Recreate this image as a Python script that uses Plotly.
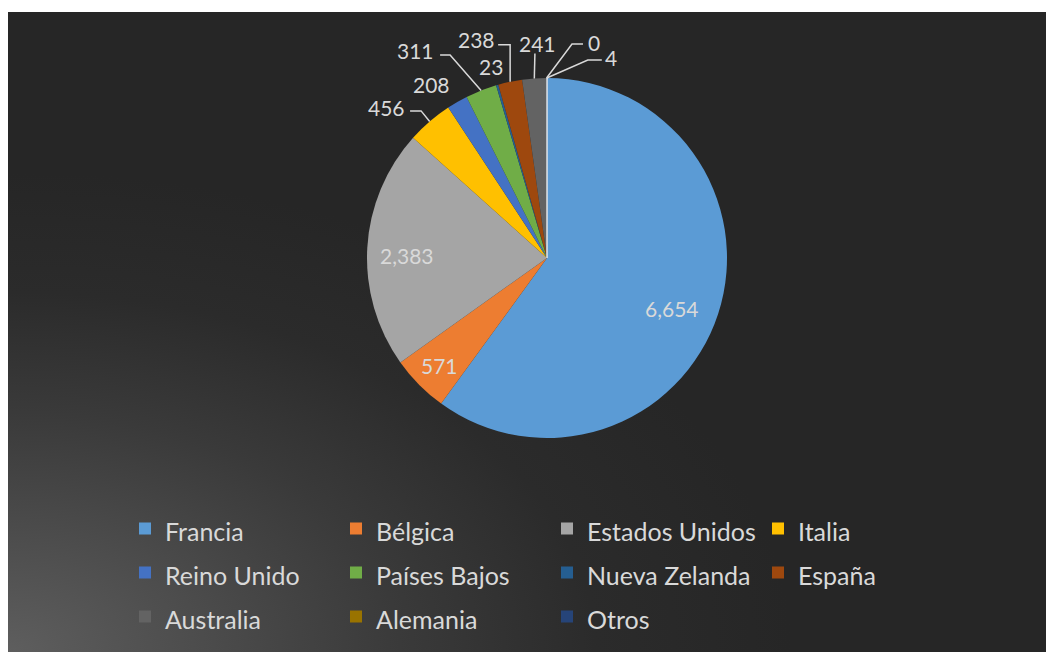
import base64
import math
import plotly.graph_objects as go

categories = ["Francia", "Bélgica", "Estados Unidos", "Italia", "Reino Unido",
              "Países Bajos", "Nueva Zelanda", "España", "Australia", "Alemania", "Otros"]
values = [6654, 571, 2383, 456, 208, 311, 23, 238, 241, 0, 4]

# ---- styling (not data) ----
colors = ["#5B9BD5", "#ED7D31", "#A5A5A5", "#FFC000", "#4472C4", "#70AD47",
          "#255E91", "#9E480E", "#636363", "#997300", "#264478"]
# inside labels: ("in", radius factor, dx, dy)
# outside labels: ("out", text dx, text dy, leader polyline offsets or None)
label_style = [
    ("in", 0.77, -7, 8),
    ("in", 0.84, 0, 1),
    ("in", 0.77, -2, 5),
    ("out", -43.6, -14.1, [(-19.6, -10.6), (-8.6, -10.6)]),
    ("out", -25.3, -17.9, None),
    ("out", -66, -40, [(-41, -35.5), (-31, -35.5)]),
    ("out", -6, -19, None),
    ("out", -34, -42, [(-12, -37), (0, -37)]),
    ("out", 3, -35, [(0.6, -25)]),
    ("out", 47, -36, [(36.4, -34), (25.4, -34)]),
    ("out", 64, -20.5, [(55, -18), (41, -18)]),
]

OFF = 8                      # page body margin of the html page
W, H = 1054 - OFF, 652 - OFF
ML, MR, MT, MB = 0, 1, 4, 0
PW, PH = W - ML - MR, H - MT - MB

svg = f'''<svg xmlns="http://www.w3.org/2000/svg" width="{PW}" height="{PH}" viewBox="0 0 {PW} {PH}" preserveAspectRatio="none">
<defs><radialGradient id="g" cx="0" cy="1" r="0.75" gradientUnits="objectBoundingBox">
<stop offset="0" stop-color="#5e5e5e"/>
<stop offset="0.25" stop-color="#4c4c4c"/>
<stop offset="0.5" stop-color="#3a3a3a"/>
<stop offset="0.75" stop-color="#2b2b2b"/>
<stop offset="1" stop-color="#262626"/>
</radialGradient></defs>
<rect x="0" y="0" width="{PW}" height="{PH}" fill="#262626"/>
<rect x="0" y="0" width="{PW}" height="{PH}" fill="url(#g)"/>
</svg>'''
bg_src = "data:image/svg+xml;base64," + base64.b64encode(svg.encode()).decode()

FONT = "Lato"
TXT = "#d9d9d9"


def to_paper(vx, vy):
    """viewport pixel -> paper fraction"""
    return (vx - OFF - ML) / PW, (H - MB - (vy - OFF)) / PH


cx, cy, r = 547, 258, 180    # pie centre / radius in page pixels
x0, y0 = to_paper(cx - r, cy + r)
x1, y1 = to_paper(cx + r, cy - r)

legend_labels = [f'<span style="font-size:25px">{c}</span>' for c in categories]

fig = go.Figure(go.Pie(
    labels=legend_labels,
    values=values,
    sort=False,
    direction="clockwise",
    rotation=0,
    marker=dict(colors=colors, line=dict(width=0)),
    textinfo="none",
    domain=dict(x=[x0, x1], y=[y0, y1]),
    showlegend=True,
    customdata=categories,
    hovertemplate="%{customdata}: %{value:,}<extra></extra>",
))

# data labels, anchored on each slice's mid-angle computed from the values
total = sum(values)
annotations, shapes = [], []
cum = 0
lab_font = dict(family=FONT, size=21, color=TXT)
for v, st in zip(values, label_style):
    theta = math.radians((cum + v / 2) / total * 360)
    cum += v
    txt = f"{v:,}"
    s, c = math.sin(theta), math.cos(theta)
    if st[0] == "in":
        _, k, dx, dy = st
        x, y = to_paper(cx + k * r * s + dx, cy - k * r * c + dy)
        annotations.append(dict(x=x, y=y, xref="paper", yref="paper", text=txt,
                                showarrow=False, xanchor="center", yanchor="middle",
                                font=lab_font))
    else:
        _, dx, dy, leader = st
        ex, ey = cx + r * s, cy - r * c
        x, y = to_paper(ex + dx, ey + dy)
        annotations.append(dict(x=x, y=y, xref="paper", yref="paper", text=txt,
                                showarrow=False, xanchor="center", yanchor="middle",
                                font=lab_font))
        if leader:
            pts = [to_paper(ex + ox, ey + oy) for ox, oy in leader] + [to_paper(ex, ey)]
            path = "M" + " L".join(f"{px:.5f},{py:.5f}" for px, py in pts)
            shapes.append(dict(type="path", path=path, xref="paper", yref="paper",
                               line=dict(color="#d9d9d9", width=1.5)))

# light edge of the last (tiny) slice, at its closing angle
theta_end = math.radians(sum(values) / total * 360)
ax0, ay0 = to_paper(cx, cy)
ax1, ay1 = to_paper(cx + r * math.sin(theta_end), cy - r * math.cos(theta_end))
shapes.append(dict(type="line", xref="paper", yref="paper", x0=ax0, y0=ay0, x1=ax1, y1=ay1,
                   line=dict(color="#e6e6e6", width=1.5)))

lx, ly = to_paper(125, 501.5)

fig.update_layout(
    width=W, height=H,
    margin=dict(l=ML, r=MR, t=MT, b=MB, pad=0, autoexpand=False),
    paper_bgcolor="white",
    plot_bgcolor="rgba(0,0,0,0)",
    images=[dict(source=bg_src, xref="paper", yref="paper", x=0, y=1,
                 sizex=1, sizey=1, xanchor="left", yanchor="top",
                 sizing="stretch", layer="below")],
    annotations=annotations,
    shapes=shapes,
    legend=dict(
        orientation="h",
        x=lx, xanchor="left",
        y=ly, yanchor="top",
        entrywidth=166, entrywidthmode="pixels",
        font=dict(family=FONT, size=31.5, color=TXT),
        bgcolor="rgba(0,0,0,0)",
        traceorder="normal",
    ),
)

fig.write_html("out.html")
